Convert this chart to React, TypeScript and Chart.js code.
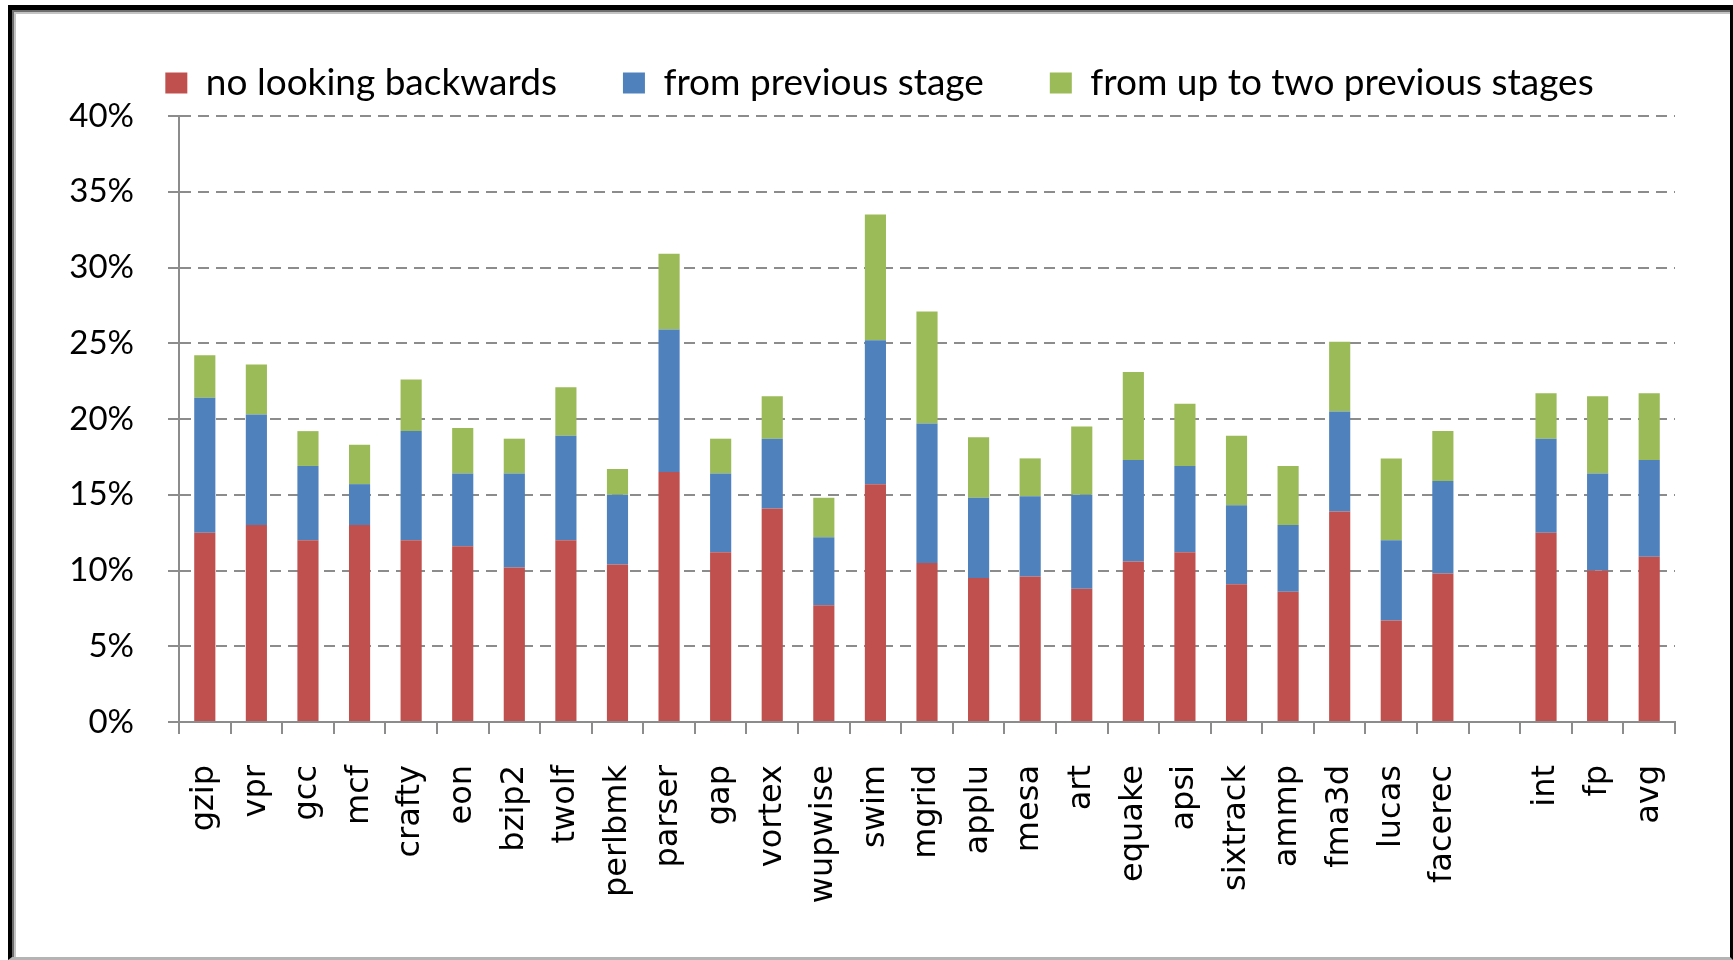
import React, { useEffect, useRef } from "react";
import { Chart, registerables } from "chart.js";

Chart.register(...registerables);

const categories = [
  "gzip", "vpr", "gcc", "mcf", "crafty", "eon", "bzip2", "twolf", "perlbmk", "parser",
  "gap", "vortex", "wupwise", "swim", "mgrid", "applu", "mesa", "art", "equake", "apsi",
  "sixtrack", "ammp", "fma3d", "lucas", "facerec", "", "int", "fp", "avg",
];

const seriesNames = ["no looking backwards", "from previous stage", "from up to two previous stages"];

// segment heights (percent)
const noLookingBackwards = [
  12.5, 13.0, 12.0, 13.0, 12.0, 11.6, 10.2, 12.0, 10.4, 16.5,
  11.2, 14.1, 7.7, 15.7, 10.5, 9.5, 9.6, 8.8, 10.6, 11.2,
  9.1, 8.6, 13.9, 6.7, 9.8, null, 12.5, 10.0, 10.9,
];
const fromPreviousStage = [
  8.9, 7.3, 4.9, 2.7, 7.2, 4.8, 6.2, 6.9, 4.6, 9.4,
  5.2, 4.6, 4.5, 9.5, 9.2, 5.3, 5.3, 6.2, 6.7, 5.7,
  5.2, 4.4, 6.6, 5.3, 6.1, null, 6.2, 6.4, 6.4,
];
const fromUpToTwoStages = [
  2.8, 3.3, 2.3, 2.6, 3.4, 3.0, 2.3, 3.2, 1.7, 5.0,
  2.3, 2.8, 2.6, 8.3, 7.4, 4.0, 2.5, 4.5, 5.8, 4.1,
  4.6, 3.9, 4.6, 5.4, 3.3, null, 3.0, 5.1, 4.4,
];

const colors = ["#C0504D", "#4F81BD", "#9BBB59"];
const yMax = 40;
const yStep = 5;

const LEGEND_FONT = 37;
const LEGEND_PAD = 66;
const LEGEND_TEXT_CENTER = 73;
const PLOT_TOP = 106;
const LEGEND_SHIFT = 72;

export default function App() {
  const canvasRef = useRef<HTMLCanvasElement>(null);

  useEffect(() => {
    document.body.style.margin = "0";
    const canvas = canvasRef.current;
    if (!canvas) return;

    const topPad = LEGEND_TEXT_CENTER - LEGEND_PAD - LEGEND_FONT / 2;
    const extra = PLOT_TOP - LEGEND_TEXT_CENTER - LEGEND_FONT / 2 - 10;

    const legendGap = {
      id: "legendGap",
      afterInit(chart: any) {
        const lg = chart.legend;
        if (!lg) return;
        const fit = lg.fit;
        lg.fit = function () {
          fit.call(this);
          this.height += extra;
        };
      },
      afterLayout(chart: any) {
        if (chart.legend) chart.legend.left += LEGEND_SHIFT;
      },
    };

    const chart = new Chart(canvas, {
      type: "bar",
      data: {
        labels: categories,
        datasets: [
          { label: seriesNames[0], data: noLookingBackwards, backgroundColor: colors[0] },
          { label: seriesNames[1], data: fromPreviousStage, backgroundColor: colors[1] },
          { label: seriesNames[2], data: fromUpToTwoStages, backgroundColor: colors[2] },
        ] as any,
      },
      plugins: [legendGap],
      options: {
        animation: false,
        responsive: false,
        layout: { padding: { top: topPad, left: 0, right: 54, bottom: 0 } },
        datasets: { bar: { categoryPercentage: 1, barPercentage: 0.41 } } as any,
        plugins: {
          legend: {
            position: "top",
            labels: {
              boxWidth: 22,
              boxHeight: 21,
              padding: LEGEND_PAD,
              color: "#000",
              font: { family: "Lato", size: LEGEND_FONT },
            },
          },
          tooltip: { enabled: false },
        },
        scales: {
          x: {
            stacked: true,
            afterFit: (s: any) => { s.height = 235; },
            grid: {
              display: true,
              drawOnChartArea: false,
              offset: true,
              color: "#8c8c8c",
              lineWidth: 2,
              tickLength: 12,
            },
            border: { display: true, color: "#8c8c8c", width: 2 },
            ticks: {
              autoSkip: false,
              minRotation: 90,
              maxRotation: 90,
              padding: 31,
              color: "#000",
              font: { family: "DejaVu Sans", size: 32 },
            },
          },
          y: {
            stacked: true,
            min: 0,
            max: yMax,
            afterFit: (s: any) => { s.width = 167; },
            grid: {
              color: "#8c8c8c",
              lineWidth: 2,
              tickLength: 11,
              tickColor: "#8c8c8c",
              tickBorderDash: [],
            } as any,
            // in Chart.js 4, border.dash dashes the grid lines; the axis line stays solid
            border: { display: true, color: "#8c8c8c", width: 2, dash: [11, 7] } as any,
            ticks: {
              stepSize: yStep,
              padding: 34,
              color: "#000",
              font: { family: "Lato", size: 33 },
              callback: (v: any) => `${v}%`,
            },
          },
        },
      },
    });

    return () => chart.destroy();
  }, []);

  return (
    <div
      style={{
        position: "absolute",
        left: 8,
        top: 5,
        width: 1725,
        height: 955,
        boxSizing: "border-box",
        borderLeft: "4px solid #000",
        borderTop: "5px solid #000",
        borderRight: "3px solid #000",
        borderBottom: "3px solid #b4b4b4",
        boxShadow: "inset 2px 2px 0 0 #6e6e6e, inset 4px 4px 0 0 #c4c4c4",
        background: "#fff",
      }}
    >
      <canvas ref={canvasRef} width={1717} height={947} style={{ display: "block" }} />
    </div>
  );
}
